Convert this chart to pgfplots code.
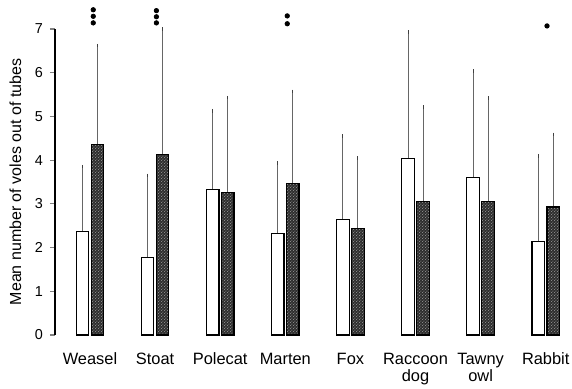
\documentclass[border=0pt]{standalone}
\usepackage{fontspec}
\setmainfont{Liberation Sans}
\usepackage{pgfplots}
\usepackage{pgfplotstable}
\pgfplotsset{compat=1.18}
\usetikzlibrary{patterns}
\pgfdeclarepatternformonly{finedots}{\pgfqpoint{0pt}{0pt}}{\pgfqpoint{1.6pt}{1.6pt}}{\pgfqpoint{1.6pt}{1.6pt}}{%
  \pgfpathcircle{\pgfqpoint{0.4pt}{0.4pt}}{0.28pt}%
  \pgfpathcircle{\pgfqpoint{1.2pt}{1.2pt}}{0.28pt}%
  \pgfusepath{fill}}

% x: category index; xw/xh: centres of the plain and hatched bars;
% w: plain bar; werr: upper error; h: hatched bar; herr: upper error
\pgfplotstableread{
x xw     xh     w    werr h    herr
0 -0.115 0.115  2.36 1.49 4.35 2.27
1 0.885  1.115  1.77 1.88 4.13 2.87
2 1.885  2.115  3.32 1.81 3.26 2.17
3 2.885  3.115  2.33 1.60 3.46 2.11
4 3.885  4.115  2.64 1.91 2.44 1.61
5 4.885  5.115  4.04 2.89 3.05 2.17
6 5.885  6.115  3.60 2.44 3.05 2.37
7 6.885  7.115  2.13 1.97 2.93 1.66
}\datatable

\pgfplotstableread{
x    y
0.05 7.14
0.05 7.29
0.05 7.44
1.02 7.14
1.02 7.28
1.02 7.42
3.03 7.12
3.03 7.30
7.02 7.07
}\dotstable

\begin{document}
\begin{tikzpicture}
\useasboundingbox (-27.5pt,-27pt) rectangle (258.5pt,167.5pt);
\begin{axis}[
  at={(0,0)}, anchor=south west,
  scale only axis,
  width=255pt, height=153pt,
  xmin=-0.5376, xmax=7.296,
  ymin=0, ymax=7,
  clip=false,
  axis lines*=left,
  x axis line style={draw=none},
  y axis line style={line width=0.6pt},
  xtick={0,...,7},
  xticklabels={Weasel,Stoat,Polecat,Marten,Fox,{Raccoon\\dog},{Tawny\\owl},Rabbit},
  xtick style={draw=none},
  xticklabel style={align=center, font=\fontsize{8.2}{8.6}\selectfont, yshift=-3pt},
  ytick={0,...,7},
  ytick style={line width=0.6pt},
  tick align=outside,
  major tick length=2.5pt,
  yticklabel style={font=\fontsize{7.2}{8}\selectfont},
  /pgf/number format/assume math mode=true,
  ylabel={Mean number of voles out of tubes},
  ylabel style={font=\fontsize{8}{9}\selectfont},
]
% upward error bars, drawn first so the bars sit on top of their feet
\addplot[draw=none, mark=none,
  error bars/.cd, y dir=plus, y explicit,
  error bar style={line width=0.5pt, black!60},
  error mark options={mark size=0.9pt, line width=0.5pt, black!75}]
  table[x=xw, y=w, y error=werr] {\datatable};
\addplot[draw=none, mark=none,
  error bars/.cd, y dir=plus, y explicit,
  error bar style={line width=0.5pt, black!60},
  error mark options={mark size=0.9pt, line width=0.5pt, black!75}]
  table[x=xh, y=h, y error=herr] {\datatable};
% bars
\addplot[ybar, bar width=6.25pt, bar shift=0pt, draw=black, line width=0.6pt, fill=white]
  table[x=xw, y=w] {\datatable};
\addplot[ybar, bar width=6.25pt, bar shift=0pt, draw=black, line width=0.6pt, fill=black!82,
  postaction={pattern=finedots, pattern color=white!80!black}]
  table[x=xh, y=h] {\datatable};
% significance dots
\addplot[only marks, mark=*, mark size=1.1pt, black] table[x=x, y=y] {\dotstable};
\end{axis}
\end{tikzpicture}
\end{document}
